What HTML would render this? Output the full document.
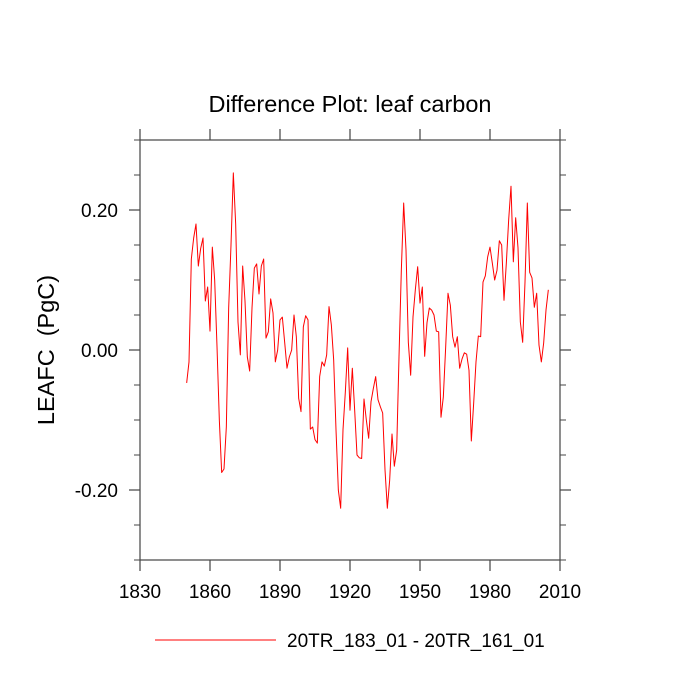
<!DOCTYPE html>
<html><head><meta charset="utf-8"><style>
html,body{margin:0;padding:0;background:#fff;}
svg{display:block;font-family:"Liberation Sans",Arial,sans-serif;}
</style></head><body>
<svg id="chart" width="700" height="700" viewBox="0 0 700 700">
<text x="350" y="112" font-size="23.5" text-anchor="middle" fill="#000">Difference Plot: leaf carbon</text>
<text x="0" y="0" font-size="23.5" text-anchor="middle" fill="#000" transform="translate(54,350) rotate(-90)" xml:space="preserve">LEAFC  (PgC)</text>
<g id="axes"></g>
<g id="series"></g>
<g>
<line x1="155" y1="640" x2="276" y2="640" stroke="#ff0000" stroke-width="1"/>
<text x="287" y="647" font-size="19" fill="#000">20TR_183_01 - 20TR_161_01</text>
</g>
</svg>
<script>
const startYear = 1850;
const values = [-0.047,-0.017,0.13,0.16,0.18,0.12,0.145,0.16,0.07,0.09,0.027,0.147,0.10,0.005,-0.10,-0.175,-0.17,-0.11,0.06,0.15,0.253,0.18,0.04,-0.007,0.12,0.07,-0.01,-0.03,0.06,0.117,0.123,0.08,0.12,0.13,0.017,0.026,0.073,0.053,-0.017,0.0,0.043,0.047,0.011,-0.026,-0.01,0.0,0.05,0.019,-0.069,-0.088,0.033,0.049,0.043,-0.113,-0.11,-0.128,-0.133,-0.038,-0.017,-0.023,-0.007,0.062,0.036,-0.014,-0.114,-0.2,-0.226,-0.114,-0.06,0.003,-0.086,-0.026,-0.086,-0.15,-0.154,-0.155,-0.07,-0.1,-0.126,-0.074,-0.055,-0.038,-0.071,-0.081,-0.09,-0.171,-0.226,-0.186,-0.12,-0.166,-0.143,-0.01,0.114,0.21,0.143,0.011,-0.036,0.047,0.086,0.119,0.067,0.09,-0.009,0.039,0.06,0.057,0.05,0.027,0.026,-0.096,-0.067,0.004,0.081,0.064,0.019,0.004,0.019,-0.026,-0.013,-0.004,-0.006,-0.029,-0.13,-0.076,-0.017,0.02,0.019,0.097,0.106,0.133,0.147,0.124,0.1,0.114,0.156,0.15,0.071,0.124,0.186,0.234,0.126,0.189,0.146,0.04,0.011,0.097,0.21,0.111,0.103,0.061,0.081,0.007,-0.017,0.01,0.057,0.086];
const xTicks = [1830,1860,1890,1920,1950,1980,2010];
const yTicks = [-0.2,0,0.2];
const yTickLabels = ["-0.20","0.00","0.20"];
const yMinor = [-0.3,-0.25,-0.15,-0.1,-0.05,0.05,0.1,0.15,0.25,0.3];

const L=140,R=560,T=140,B=560;
const xS = yr => L + (yr-1830)/(2010-1830)*(R-L);
const yS = v => T + (0.3-v)/0.6*(B-T);
const NS='http://www.w3.org/2000/svg';
function mk(tag, attrs, parent){const e=document.createElementNS(NS,tag);for(const k in attrs)e.setAttribute(k,attrs[k]);parent.appendChild(e);return e;}
const ax=document.getElementById('axes');
const AX='#444';
let f=mk('rect',{x:L,y:T,width:R-L,height:B-T,fill:'none',stroke:AX,'stroke-width':1.2},ax);


xTicks.forEach(t=>{
  const x=xS(t);
  let a=mk('line',{x1:x,y1:B,x2:x,y2:B+11,stroke:AX,'stroke-width':1.2},ax);
  
  
  let b=mk('line',{x1:x,y1:T,x2:x,y2:T-11,stroke:AX,'stroke-width':1.2},ax);
  
  
  let tx=mk('text',{x:x,y:B+38,'font-size':19,'text-anchor':'middle',fill:'#000'},ax);
  tx.textContent=t;
  
  
});
yTicks.forEach((t,i)=>{
  const y=yS(t);
  let a=mk('line',{x1:L,y1:y,x2:L-11,y2:y,stroke:AX,'stroke-width':1.2},ax);
  
  
  let b=mk('line',{x1:R,y1:y,x2:R+11,y2:y,stroke:AX,'stroke-width':1.2},ax);
  
  
  let tx=mk('text',{x:L-22,y:y+7,'font-size':19,'text-anchor':'end',fill:'#000'},ax);
  tx.textContent=yTickLabels[i];
  
  
});
yMinor.forEach(t=>{
  const y=yS(t);
  let a=mk('line',{x1:L,y1:y,x2:L-6,y2:y,stroke:AX,'stroke-width':1},ax);
  
  
  let b=mk('line',{x1:R,y1:y,x2:R+6,y2:y,stroke:AX,'stroke-width':1},ax);
  
  
});
const pts=values.map((v,i)=>xS(startYear+i).toFixed(2)+','+yS(v).toFixed(2)).join(' ');
let pl=mk('polyline',{points:pts,fill:'none',stroke:'#ff0000','stroke-width':1,'stroke-linejoin':'round'},document.getElementById('series'));


</script>
</body></html>
